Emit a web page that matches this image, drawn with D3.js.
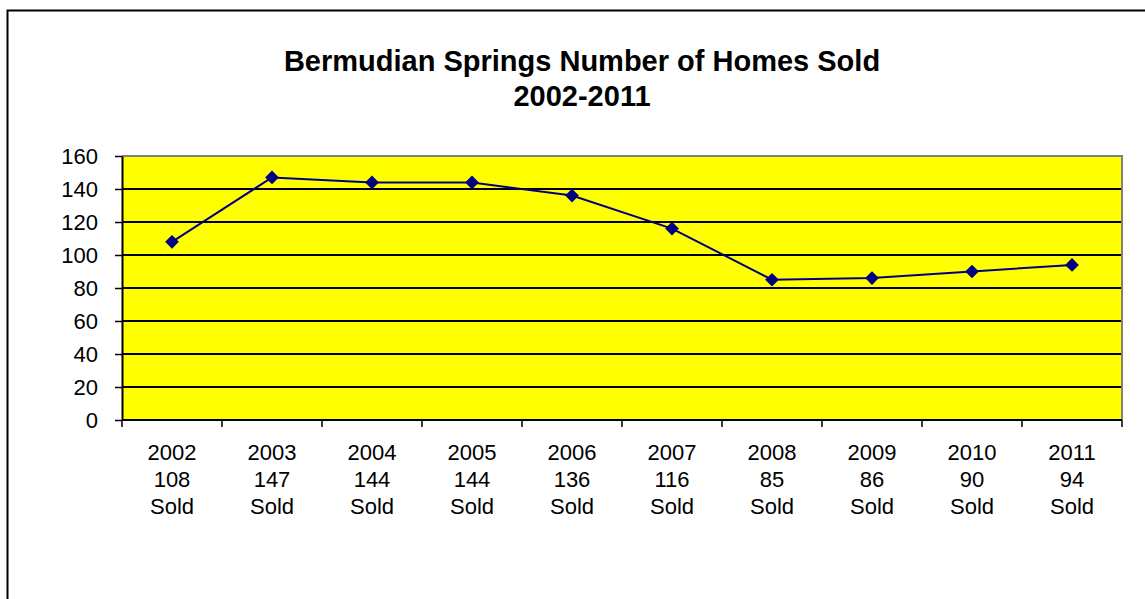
<!DOCTYPE html>
<html>
<head>
<meta charset="utf-8">
<script src="https://cdn.jsdelivr.net/npm/d3@7"></script>
<style>
  body { margin: 0; background: #fff; }
  svg { display: block; font-family: "Liberation Sans", Arial, sans-serif; }
</style>
</head>
<body>
<svg id="svg"></svg>
<script>
// chart data
const years = ["2002", "2003", "2004", "2005", "2006", "2007", "2008", "2009", "2010", "2011"];
const homesSold = [108, 147, 144, 144, 136, 116, 85, 86, 90, 94];
const yTicks = [0, 20, 40, 60, 80, 100, 120, 140, 160];
const titleLines = ["Bermudian Springs Number of Homes Sold", "2002-2011"];

const width = 1145;
const height = 599;

let svg = d3.select("#svg")
    .attr("width", width)
    .attr("height", height);

// outer chart frame (runs off the right and bottom)
svg.append("rect")
    .attr("x", 7.5)
    .attr("y", 10.5)
    .attr("width", 1300)
    .attr("height", 800)
    .attr("fill", "none")
    .attr("stroke", "#000")
    .attr("stroke-width", 2);

// title
svg.append("text")
    .attr("text-anchor", "middle")
    .style("font-size", "29px")
    .style("font-weight", "bold")
    .selectAll("tspan")
    .data(titleLines)
    .join("tspan")
    .attr("x", 582)
    .attr("y", (d, i) => 71 + i * 35)
    .text(d => d);

const margin = { top: 156, left: 122, right: 23, bottom: 179 };
const chartWidth = width - margin.left - margin.right;
const chartHeight = height - margin.top - margin.bottom;

let chart = svg.append("g")
    .attr("transform", "translate(" + margin.left + "," + margin.top + ")");

let xScale = d3.scaleBand()
    .domain(years)
    .range([0, chartWidth])
    .padding(0);

let yScale = d3.scaleLinear()
    .domain([0, 160])
    .range([chartHeight, 0]);

// plot background
chart.append("rect")
    .attr("width", chartWidth)
    .attr("height", chartHeight)
    .attr("fill", "#ffff00");

// gridlines
chart.selectAll(".grid")
    .data(yTicks.filter(t => t > 0 && t < 160))
    .join("line")
    .attr("class", "grid")
    .attr("x1", 0)
    .attr("x2", chartWidth)
    .attr("y1", d => yScale(d))
    .attr("y2", d => yScale(d))
    .attr("stroke", "#000")
    .attr("stroke-width", 1.8);

// grey top and right border of the plot
chart.append("path")
    .attr("d", `M0,${yScale(160)}H${chartWidth}V${chartHeight}`)
    .attr("fill", "none")
    .attr("stroke", "#808080")
    .attr("stroke-width", 2);

// y axis
let yAxis = chart.append("g")
    .attr("class", "y-axis")
    .call(d3.axisLeft(yScale).tickValues(yTicks).tickSize(7).tickPadding(17).tickSizeOuter(0));
yAxis.select(".domain").attr("stroke", "#000").attr("stroke-width", 2);
yAxis.selectAll(".tick line").attr("stroke-width", 1.5);
yAxis.selectAll("text")
    .style("font-size", "22px")
    .style("font-family", "Liberation Sans, Arial, sans-serif")
    .attr("fill", "#000");

// x axis line
chart.append("line")
    .attr("x1", 0)
    .attr("x2", chartWidth)
    .attr("y1", chartHeight)
    .attr("y2", chartHeight)
    .attr("stroke", "#000")
    .attr("stroke-width", 2);

// x ticks at category boundaries
const boundaries = years.map(y => xScale(y)).concat([chartWidth]);
chart.selectAll(".xtick")
    .data(boundaries)
    .join("line")
    .attr("class", "xtick")
    .attr("x1", d => d)
    .attr("x2", d => d)
    .attr("y1", chartHeight)
    .attr("y2", chartHeight + 7)
    .attr("stroke", "#000")
    .attr("stroke-width", 1.5);

// x labels: year / count / Sold
let xLabels = chart.selectAll(".xlabel")
    .data(years)
    .join("text")
    .attr("class", "xlabel")
    .attr("text-anchor", "middle")
    .style("font-size", "22px");

xLabels.selectAll("tspan")
    .data((d, i) => [d, String(homesSold[i]), "Sold"].map(t => ({ t: t, x: xScale(d) + xScale.bandwidth() / 2 })))
    .join("tspan")
    .attr("x", d => d.x)
    .attr("y", (d, i) => chartHeight + 40 + i * 27)
    .text(d => d.t);

// series line
const line = d3.line()
    .x((d, i) => xScale(years[i]) + xScale.bandwidth() / 2)
    .y(d => yScale(d));

chart.append("path")
    .datum(homesSold)
    .attr("d", line)
    .attr("fill", "none")
    .attr("stroke", "#000080")
    .attr("stroke-width", 2);

// diamond markers
chart.selectAll(".marker")
    .data(homesSold)
    .join("path")
    .attr("class", "marker")
    .attr("d", d3.symbol().type(d3.symbolDiamond2).size(120))
    .attr("transform", (d, i) => `translate(${xScale(years[i]) + xScale.bandwidth() / 2},${yScale(d)})`)
    .attr("fill", "#000080");
</script>
</body>
</html>
